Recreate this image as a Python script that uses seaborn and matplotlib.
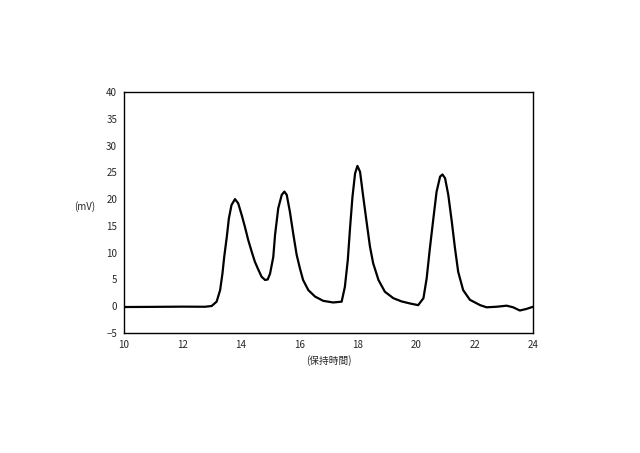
import matplotlib
matplotlib.use("Agg")
import matplotlib.pyplot as plt
import seaborn as sns
import pandas as pd

# retention time (min) and signal (mV)
time_min = [10.0, 11.0, 12.0, 12.77, 13.00, 13.17, 13.29, 13.37, 13.43, 13.52, 13.59, 13.68,
            13.80, 13.91, 14.03, 14.14, 14.25, 14.37, 14.48, 14.60, 14.71, 14.83, 14.92,
            15.00, 15.11, 15.17, 15.28, 15.40, 15.49, 15.57, 15.68, 15.80, 15.91, 16.02,
            16.13, 16.31, 16.54, 16.82, 17.16, 17.45, 17.56, 17.66, 17.74, 17.82, 17.91,
            17.99, 18.08, 18.19, 18.31, 18.42, 18.53, 18.71, 18.93, 19.22, 19.50, 19.80,
            20.07, 20.25, 20.36, 20.47, 20.59, 20.70, 20.82, 20.90, 20.99, 21.10, 21.22,
            21.33, 21.44, 21.61, 21.84, 22.19, 22.41, 22.75, 23.10, 23.32, 23.55, 23.78, 24.0]
signal_mv = [-0.15, -0.12, -0.08, -0.1, 0.04, 0.85, 3.0, 6.1, 9.2, 13.0, 16.4, 18.9,
             20.0, 19.2, 17.0, 14.8, 12.4, 10.2, 8.3, 6.8, 5.5, 4.9, 5.0,
             6.1, 9.2, 13.3, 18.3, 20.8, 21.4, 20.8, 17.6, 13.3, 9.6, 7.1,
             4.9, 3.0, 1.8, 1.0, 0.7, 0.85, 3.6, 8.6, 14.8, 20.4, 24.8,
             26.2, 25.1, 20.4, 15.5, 11.1, 8.0, 4.9, 2.7, 1.5, 0.9, 0.5,
             0.2, 1.5, 5.2, 10.8, 16.4, 21.4, 24.2, 24.6, 23.9, 20.8, 15.8,
             10.8, 6.4, 3.0, 1.2, 0.2, -0.2, -0.1, 0.1, -0.2, -0.8, -0.5, -0.1]
x_ticks = [10, 12, 14, 16, 18, 20, 22, 24]
y_ticks = [-5, 0, 5, 10, 15, 20, 25, 30, 35, 40]

df = pd.DataFrame({"time": time_min, "mv": signal_mv})

sns.set_style("white")
plt.rcParams["font.family"] = ["Noto Sans CJK JP", "DejaVu Sans"]

fig = plt.figure(figsize=(6.4, 4.53), dpi=100)
ax = fig.add_axes([124 / 640, 1 - 333 / 453, 409 / 640, 241 / 453])

sns.lineplot(data=df, x="time", y="mv", ax=ax, color="black", linewidth=1.6,
             solid_joinstyle="round", solid_capstyle="round")

ax.set_xlim(10, 24)
ax.set_ylim(-5, 40)
ax.set_xticks(x_ticks)
ax.set_yticks(y_ticks)
ax.tick_params(direction="in", length=2.5, width=0.6, labelsize=7, pad=5)
for s in ax.spines.values():
    s.set_color("black")
    s.set_linewidth(1.0)

ax.set_xlabel("(保持時間)", fontsize=7, labelpad=4)
ax.set_ylabel("(mV)", fontsize=7, rotation=0, labelpad=14)
ax.yaxis.set_label_coords(-0.095, 0.50)

fig.savefig("out.png", dpi=100, facecolor="white")
